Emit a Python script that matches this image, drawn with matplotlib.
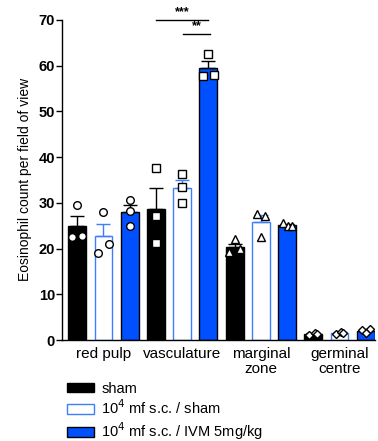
import numpy as np
import matplotlib.pyplot as plt
from matplotlib.patches import Patch

plt.rcParams['font.family'] = ['Liberation Sans', 'DejaVu Sans']

groups = ['red pulp', 'vasculature', 'marginal\nzone', 'germinal\ncentre']
series = ['sham', '10$^4$ mf s.c. / sham', '10$^4$ mf s.c. / IVM 5mg/kg']

means = [[25.0, 28.7, 20.4, 1.3],
         [22.7, 33.2, 25.8, 1.6],
         [27.9, 59.5, 25.1, 2.0]]
sems = [[2.2, 4.6, 0.7, 0.2],
        [2.7, 1.8, 1.5, 0.2],
        [1.7, 1.5, 0.3, 0.3]]
points = [[[29.5, 22.5, 22.8], [37.5, 27.2, 21.3], [22.0, 19.2, 19.8], [1.2, 1.5, 1.3]],
          [[28.0, 19.0, 21.0], [36.3, 33.5, 30.0], [27.5, 27.2, 22.5], [1.4, 1.8, 1.5]],
          [[30.6, 28.2, 25.0], [62.6, 57.8, 58.0], [25.5, 25.0, 24.9], [2.2, 2.3, 1.6]]]
point_dx = [[[0.0, -0.2, 0.2], [0.0, 0.0, 0.0], [0.0, -0.2, 0.2], [-0.15, 0.05, 0.15]],
            [[0.0, -0.2, 0.2], [0.0, 0.0, 0.0], [-0.15, 0.15, 0.0], [-0.15, 0.05, 0.15]],
            [[0.0, 0.0, 0.0], [0.0, -0.2, 0.2], [-0.15, 0.05, 0.2], [-0.15, 0.15, 0.0]]]
markers = ['o', 's', '^', 'D']

face = ['black', 'white', '#0050ff']
edge = ['black', '#3d7dff', 'black']
errc = ['black', '#3d7dff', 'black']

fig = plt.figure(figsize=(3.78, 4.41), dpi=100)
ax = fig.add_axes([0.164, 0.229, 0.828, 0.726])

for s in range(3):
    for g in range(4):
        x = g * 3 + s
        ax.bar(x, means[s][g], width=0.68, color=face[s], edgecolor=edge[s], linewidth=1.0, zorder=2)
        ax.errorbar(x, means[s][g], yerr=[[0], [sems[s][g]]], color=errc[s], capsize=5,
                    elinewidth=1.0, capthick=1.0, zorder=3)
        ax.plot(x + np.array(point_dx[s][g]), points[s][g], linestyle='none', marker=markers[g],
                markersize=5.5 if g < 3 else 4.5, markerfacecolor='white', markeredgecolor='black',
                markeredgewidth=1.0, zorder=4)

# significance
ax.plot([3, 5], [70, 70], color='black', lw=1.0, clip_on=False)
ax.text(4, 70.3, '***', ha='center', va='bottom', fontsize=9, fontweight='bold')
ax.plot([4.05, 5.05], [67, 67], color='black', lw=1.0, clip_on=False)
ax.text(4.55, 67.3, '**', ha='center', va='bottom', fontsize=9, fontweight='bold')

ax.set_ylim(0, 70)
ax.set_xlim(-0.58, 11.35)
ax.set_yticks(range(0, 71, 10))
ax.set_xticks([1, 4, 7, 10])
ax.set_xticklabels(groups, fontsize=11, linespacing=1.1)
ax.tick_params(axis='x', length=0, pad=5)
ax.tick_params(axis='y', length=4, width=1.0, labelsize=10.5, pad=1)
for lab in ax.get_yticklabels():
    lab.set_fontweight('bold')
ax.spines['top'].set_visible(False)
ax.spines['right'].set_visible(False)
ax.spines['left'].set_linewidth(1.0)
ax.spines['bottom'].set_linewidth(1.0)
ax.set_ylabel('Eosinophil count per field of view', fontsize=10, labelpad=5)

handles = [Patch(facecolor=face[i], edgecolor=edge[i], linewidth=1.0) for i in range(3)]
fig.legend(handles, series, loc='upper left', bbox_to_anchor=(0.15, 0.158), frameon=False,
           fontsize=10.5, handlelength=1.85, handleheight=0.65, labelspacing=0.22,
           handletextpad=0.5, borderpad=0.2)

fig.savefig('out.png', dpi=100)
